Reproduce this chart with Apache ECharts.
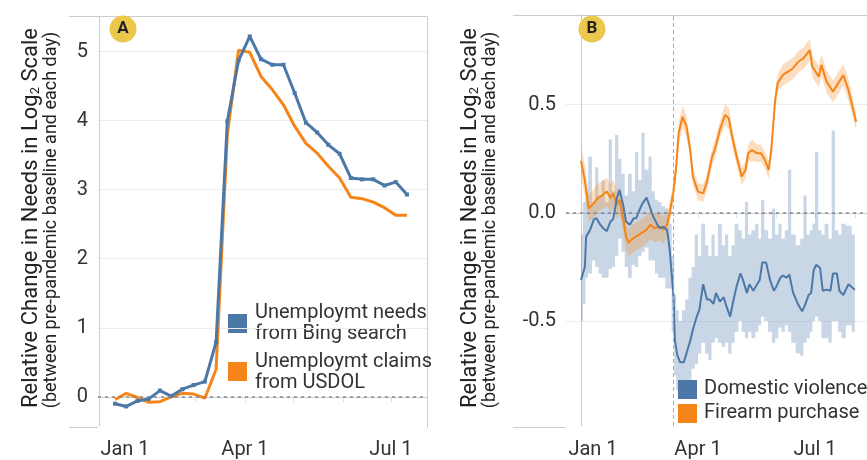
<!DOCTYPE html>
<html>
<head>
<meta charset="utf-8">
<script src="https://cdn.jsdelivr.net/npm/echarts@6/dist/echarts.min.js"></script>
<style>
html, body { margin: 0; padding: 0; background: #fff; }
#chart { width: 867px; height: 460px; }
</style>
</head>
<body>
<div id="chart"></div>
<script>
// ---- panel A: weekly unemployment (week ending) ----
const weeks = ['2020-01-11','2020-01-18','2020-01-25','2020-02-01','2020-02-08','2020-02-15','2020-02-22',
  '2020-02-29','2020-03-07','2020-03-14','2020-03-21','2020-03-28','2020-04-04','2020-04-11','2020-04-18',
  '2020-04-25','2020-05-02','2020-05-09','2020-05-16','2020-05-23','2020-05-30','2020-06-06','2020-06-13',
  '2020-06-20','2020-06-27','2020-07-04','2020-07-11'];
const bingNeeds = [-0.10,-0.14,-0.06,-0.03,0.09,0.01,0.11,0.17,0.22,0.79,3.99,4.87,5.22,4.89,4.81,
  4.81,4.40,3.97,3.83,3.65,3.52,3.17,3.15,3.15,3.06,3.11,2.93];
const usdolClaims = [-0.04,0.05,-0.01,-0.08,-0.07,0.00,0.05,0.04,-0.02,0.40,3.80,5.02,4.99,4.64,4.45,
  4.23,3.92,3.67,3.53,3.34,3.17,2.89,2.87,2.82,2.74,2.63,2.63];

// ---- panel B: days since Jan 1 2020 ----
const dvDays = [0,3,4,7,10,12,15,17,20,23,25,28,30,33,35,38,41,43,46,48,51,54,56,59,61,64,67,69,72,73,75,77,80,
  82,85,87,90,92,95,98,100,103,105,108,111,113,116,118,121,124,126,129,131,134,137,139,141,144,147,150,152,
  155,157,160,162,165,169,172,174,177,179,181,183,186,188,191,194,196,199,201,204,208,213];
const dvMid = [-0.31,-0.25,-0.11,-0.08,-0.03,-0.025,-0.055,-0.07,-0.085,-0.04,-0.03,0.07,0.105,0.03,-0.04,-0.055,
  -0.025,-0.025,0.02,0.045,0.07,0.02,-0.015,-0.05,-0.07,-0.065,-0.08,-0.17,-0.39,-0.59,-0.66,-0.69,-0.69,
  -0.65,-0.59,-0.54,-0.48,-0.45,-0.33,-0.40,-0.40,-0.42,-0.37,-0.41,-0.39,-0.43,-0.48,-0.42,-0.34,-0.28,-0.31,
  -0.37,-0.33,-0.36,-0.33,-0.31,-0.23,-0.23,-0.31,-0.36,-0.34,-0.30,-0.29,-0.30,-0.285,-0.37,-0.425,-0.455,
  -0.43,-0.38,-0.37,-0.265,-0.24,-0.255,-0.36,-0.355,-0.36,-0.28,-0.28,-0.36,-0.38,-0.33,-0.355];
const dvHi = [-0.1,0.05,0.1,0.26,0.05,0.21,0.08,0.15,0.05,0.34,0.1,0.36,0.25,0.18,0.08,0.18,0.1,0.28,0.15,0.37,
  0.2,0.26,0.1,0.06,0.05,0.03,0.02,-0.05,-0.2,-0.38,-0.45,-0.5,-0.45,-0.4,-0.3,-0.25,-0.1,-0.2,-0.05,-0.15,-0.2,
  -0.1,-0.2,-0.05,-0.15,-0.1,-0.2,-0.15,-0.05,-0.08,-0.12,0.05,-0.1,-0.08,-0.05,-0.12,0.06,-0.08,-0.12,0.02,-0.1,
  -0.05,-0.12,-0.08,0.2,-0.1,-0.15,-0.12,0.08,-0.1,-0.08,-0.05,0.28,-0.08,-0.1,-0.05,-0.12,0.38,-0.08,-0.1,
  -0.05,-0.06,-0.1];
const dvLo = [-0.5,-0.42,-0.3,-0.28,-0.22,-0.25,-0.28,-0.3,-0.3,-0.26,-0.25,-0.2,-0.12,-0.18,-0.25,-0.3,-0.24,
  -0.25,-0.2,-0.18,-0.16,-0.22,-0.22,-0.28,-0.3,-0.3,-0.35,-0.35,-0.55,-0.75,-0.82,-0.85,-0.85,-0.82,-0.78,
  -0.72,-0.7,-0.65,-0.6,-0.65,-0.68,-0.6,-0.58,-0.6,-0.62,-0.6,-0.65,-0.6,-0.55,-0.5,-0.55,-0.58,-0.55,-0.58,
  -0.55,-0.52,-0.48,-0.5,-0.55,-0.6,-0.58,-0.53,-0.55,-0.52,-0.55,-0.6,-0.65,-0.66,-0.6,-0.58,-0.55,-0.5,-0.48,
  -0.5,-0.58,-0.58,-0.6,-0.5,-0.5,-0.55,-0.58,-0.52,-0.55];

const fireDays = [0,3,6,10,13,17,20,23,25,28,30,33,35,37,39,43,47,51,54,57,61,64,67,69,72,74,76,79,82,85,87,
  91,95,98,102,104,108,112,115,117,121,125,128,130,133,137,140,143,146,148,151,153,157,161,165,169,173,176,
  178,180,185,187,191,196,200,204,208,214];
const fireMid = [0.24,0.15,0.02,0.045,0.068,0.083,0.098,0.068,0.09,0.037,0.06,-0.032,-0.109,-0.14,-0.125,-0.109,
  -0.094,-0.078,-0.055,-0.071,-0.063,-0.078,-0.055,0.0,0.1,0.21,0.37,0.444,0.40,0.29,0.167,0.098,0.09,0.144,
  0.26,0.29,0.383,0.452,0.437,0.368,0.26,0.168,0.198,0.275,0.29,0.275,0.275,0.245,0.198,0.29,0.52,0.6,0.637,
  0.652,0.668,0.698,0.714,0.737,0.752,0.675,0.629,0.683,0.606,0.56,0.598,0.637,0.568,0.421];
const fireErr = [0.07,0.07,0.065,0.065,0.065,0.065,0.065,0.065,0.065,0.065,0.065,0.065,0.065,0.065,0.065,0.065,
  0.065,0.065,0.065,0.065,0.065,0.065,0.05,0.05,0.05,0.05,0.05,0.05,0.05,0.04,0.04,0.04,0.04,0.04,0.04,0.04,
  0.04,0.05,0.05,0.04,0.04,0.04,0.04,0.04,0.05,0.04,0.04,0.04,0.04,0.04,0.04,0.04,0.05,0.05,0.05,0.05,0.05,
  0.05,0.05,0.05,0.05,0.05,0.05,0.05,0.05,0.05,0.05,0.04];

const tickDays = [0,31,60,91,121,152,182,213];
const labelDays = [0,91,182];
const labelText = {0: 'Jan 1', 91: 'Apr 1', 182: 'Jul 1'};
const eventDay = 72; // Mar 13

const BLUE = '#4c78a8';
const ORANGE = '#f58518';
const FONT = 'Roboto';

function dayOf(s) {
  return (Date.parse(s) - Date.UTC(2020, 0, 1)) / 86400000;
}
function pairs(xs, ys) {
  return xs.map((x, i) => [x, ys[i]]);
}

// confidence band drawn as one polygon (optionally stepped per sample)
function band(days, lo, hi, fill, stepped) {
  return {
    type: 'custom', xAxisIndex: 1, yAxisIndex: 1, silent: true, z: 1,
    data: days.map((d, i) => [d, lo[i], hi[i]]),
    encode: { x: 0, y: [1, 2] },
    renderItem: (params, api) => {
      if (params.dataIndex !== 0) return null;
      const top = [], bot = [];
      const n = days.length;
      for (let i = 0; i < n; i++) {
        if (stepped) {
          const l = i === 0 ? days[0] : (days[i - 1] + days[i]) / 2;
          const r = i === n - 1 ? days[n - 1] : (days[i] + days[i + 1]) / 2;
          top.push(api.coord([l, hi[i]]), api.coord([r, hi[i]]));
          bot.push(api.coord([l, lo[i]]), api.coord([r, lo[i]]));
        } else {
          top.push(api.coord([days[i], hi[i]]));
          bot.push(api.coord([days[i], lo[i]]));
        }
      }
      return { type: 'polygon', shape: { points: top.concat(bot.reverse()) }, style: { fill: fill } };
    }
  };
}

function xAxisFor(grid, min, max, janShift) {
  return {
    gridIndex: grid, type: 'value', min: min, max: max,
    axisLine: { show: true, lineStyle: { color: '#ccc' } },
    axisTick: { show: true, customValues: tickDays, length: 5, lineStyle: { color: '#ddd' } },
    axisLabel: {
      customValues: labelDays, margin: 14, fontSize: 20, fontFamily: FONT, color: '#333',
      formatter: v => v === 0 ? '{j|Jan 1}' : labelText[v],
      rich: { j: { fontSize: 20, fontFamily: FONT, color: '#333', padding: [0, 0, 0, janShift * 2] } }
    },
    splitLine: { show: false }
  };
}
function yAxisFor(grid, min, max, labels, lines, fmt) {
  return {
    gridIndex: grid, type: 'value', min: min, max: max,
    axisLine: { show: true, lineStyle: { color: '#ccc' } },
    axisTick: { show: false, customValues: lines },
    axisLabel: { customValues: labels, margin: 10, fontSize: 20, fontFamily: FONT, color: '#333', formatter: fmt },
    splitLine: { show: true, lineStyle: { color: '#ececec' } }
  };
}

const chart = echarts.init(document.getElementById('chart'));

const yTitle = (cx) => [
  { type: 'text', x: cx, y: 218, rotation: Math.PI / 2,
    style: { text: 'Relative Change in Needs in Log{s|2} Scale', fontSize: 22, fontFamily: FONT, fill: '#222',
      align: 'center', verticalAlign: 'middle',
      rich: { s: { fontSize: 13, fontFamily: FONT, fill: '#222', padding: [10, 0, 0, 0] } } } },
  { type: 'text', x: cx + 20, y: 220, rotation: Math.PI / 2,
    style: { text: '(between pre-pandemic baseline and each day)', fontSize: 18, fontFamily: FONT, fill: '#222',
      align: 'center', verticalAlign: 'middle' } }
];
const badge = (cx, letter) => [
  { type: 'circle', shape: { cx: cx, cy: 29, r: 13.5 }, style: { fill: '#ebc74b' } },
  { type: 'text', x: cx, y: 29, style: { text: letter, fontSize: 17, fontWeight: 'bold', fontFamily: FONT,
    fill: '#222', align: 'center', verticalAlign: 'middle' } }
];
const swatch = (x, y, color) => ({ type: 'rect', shape: { x: x, y: y, width: 19, height: 19 }, style: { fill: color } });
const label = (x, y, txt) => ({ type: 'text', x: x, y: y, style: { text: txt, fontSize: 20, fontFamily: FONT,
  fill: '#333', align: 'left', verticalAlign: 'middle' } });
const frameLine = (pts) => ({ type: 'polyline', shape: { points: pts }, style: { stroke: '#ccc', lineWidth: 1, fill: null } });

chart.setOption({
  animation: false,
  textStyle: { fontFamily: FONT },
  grid: [
    { left: 98, top: 16, width: 329, height: 411 },
    { left: 566, top: 15, width: 301, height: 412 }
  ],
  xAxis: [
    xAxisFor(0, (98 - 99) / 1.604, (427 - 99) / 1.604, 26),
    xAxisFor(1, (566 - 581) / 1.2857, (867 - 581) / 1.2857, 12)
  ],
  yAxis: [
    yAxisFor(0, -0.423, 5.516, [0, 1, 2, 3, 4, 5], [1, 2, 3, 4, 5], v => String(v)),
    yAxisFor(1, -0.985, 0.914, [-0.5, 0, 0.5], [-0.5, 0.5], v => v.toFixed(1))
  ],
  series: [
    { name: 'Unemploymt claims from USDOL', type: 'line', xAxisIndex: 0, yAxisIndex: 0,
      data: pairs(weeks.map(dayOf), usdolClaims), showSymbol: false, symbol: 'none',
      lineStyle: { color: ORANGE, width: 3 }, itemStyle: { color: ORANGE },
      markLine: { silent: true, symbol: 'none', label: { show: false },
        lineStyle: { color: '#888', type: [3, 4], width: 1.5 }, data: [{ yAxis: 0 }] } },
    { name: 'Unemploymt needs from Bing search', type: 'line', xAxisIndex: 0, yAxisIndex: 0,
      data: pairs(weeks.map(dayOf), bingNeeds), symbol: 'rect', symbolSize: 4,
      lineStyle: { color: BLUE, width: 3 }, itemStyle: { color: BLUE } },

    band(dvDays, dvLo, dvHi, 'rgba(76,120,168,0.3)', true),
    band(fireDays, fireMid.map((m, i) => m - fireErr[i]), fireMid.map((m, i) => m + fireErr[i]),
      'rgba(245,133,24,0.28)', false),
    { name: 'Firearm purchase', type: 'line', xAxisIndex: 1, yAxisIndex: 1, symbol: 'none', z: 3,
      data: pairs(fireDays, fireMid), lineStyle: { color: ORANGE, width: 2 },
      markLine: { silent: true, symbol: 'none', label: { show: false },
        data: [
          { yAxis: 0, lineStyle: { color: '#888', type: [3, 4], width: 1.5 } },
          { xAxis: eventDay, lineStyle: { color: '#aaa', type: [4, 3], width: 1 } }
        ] } },
    { name: 'Domestic violence', type: 'line', xAxisIndex: 1, yAxisIndex: 1, symbol: 'none', z: 3,
      data: pairs(dvDays, dvMid), lineStyle: { color: BLUE, width: 2 } }
  ],
  graphic: [
    frameLine([[69, 16.5], [427.5, 16.5], [427.5, 427.5]]),
    frameLine([[69, 427.5], [98, 427.5]]),
    frameLine([[513, 15.5], [867, 15.5]]),
    frameLine([[513, 427.5], [566, 427.5]]),
    ...yTitle(31), ...yTitle(470),
    ...badge(123, 'A'), ...badge(592, 'B'),
    swatch(228, 314, BLUE), label(255, 313, 'Unemploymt needs'), label(255, 334, 'from Bing search'),
    swatch(228, 362, ORANGE), label(255, 362, 'Unemploymt claims'), label(255, 383, 'from USDOL'),
    swatch(678, 380, BLUE), label(704, 389, 'Domestic violence'),
    swatch(678, 404, ORANGE), label(704, 413, 'Firearm purchase')
  ]
});
</script>
</body>
</html>
